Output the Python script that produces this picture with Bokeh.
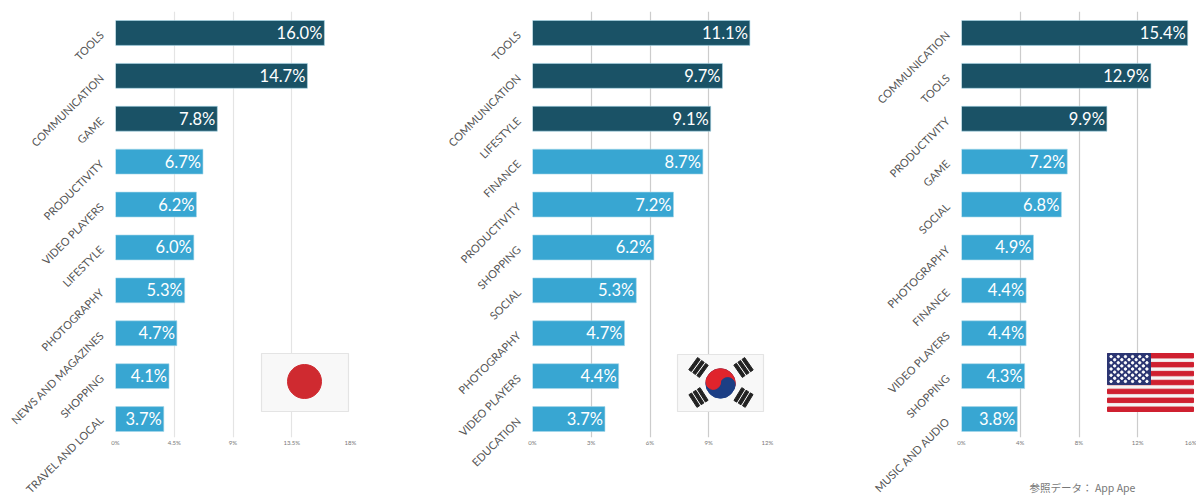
import math
import numpy as np
from bokeh.embed import file_html
from bokeh.resources import INLINE
from bokeh.layouts import row
from bokeh.models import ColumnDataSource, FixedTicker, Range1d
from bokeh.plotting import figure
from bokeh.core.properties import value

jp_categories = ["TOOLS", "COMMUNICATION", "GAME", "PRODUCTIVITY", "VIDEO PLAYERS", "LIFESTYLE",
                 "PHOTOGRAPHY", "NEWS AND MAGAZINES", "SHOPPING", "TRAVEL AND LOCAL"]
jp_values = [16.0, 14.7, 7.8, 6.7, 6.2, 6.0, 5.3, 4.7, 4.1, 3.7]
jp_ticks = [0, 4.5, 9, 13.5, 18]
jp_tick_labels = ["0%", "4.5%", "9%", "13.5%", "18%"]

kr_categories = ["TOOLS", "COMMUNICATION", "LIFESTYLE", "FINANCE", "PRODUCTIVITY", "SHOPPING",
                 "SOCIAL", "PHOTOGRAPHY", "VIDEO PLAYERS", "EDUCATION"]
kr_values = [11.1, 9.7, 9.1, 8.7, 7.2, 6.2, 5.3, 4.7, 4.4, 3.7]
kr_ticks = [0, 3, 6, 9, 12]
kr_tick_labels = ["0%", "3%", "6%", "9%", "12%"]

us_categories = ["COMMUNICATION", "TOOLS", "PRODUCTIVITY", "GAME", "SOCIAL", "PHOTOGRAPHY",
                 "FINANCE", "VIDEO PLAYERS", "SHOPPING", "MUSIC AND AUDIO"]
us_values = [15.4, 12.9, 9.9, 7.2, 6.8, 4.9, 4.4, 4.4, 4.3, 3.8]
us_ticks = [0, 4, 8, 12, 16]
us_tick_labels = ["0%", "4%", "8%", "12%", "16%"]
source_note = "\u00a0\u00a0\u00a0参照データ： App Ape"

DARK = "#1a5266"
LIGHT = "#38a6d2"
FRAME_W = 235
FRAME_H = 426
ROW_H = 42.9
TOP = 11


def chart(cats, vals, ticks, tick_labels, left, right, grid_color):
    colors = [DARK if i < 3 else LIGHT for i in range(len(vals))]
    n = len(cats)
    pos = [i + 0.5 for i in range(n)]
    p = figure(width=left + FRAME_W + right, height=495, frame_width=FRAME_W, frame_height=FRAME_H,
               x_range=Range1d(ticks[0], ticks[-1]), y_range=Range1d(FRAME_H / ROW_H, 0),
               output_backend="svg", toolbar_location=None,
               min_border_left=left, min_border_right=right, min_border_top=TOP,
               min_border_bottom=495 - FRAME_H - TOP)
    p.outline_line_color = None
    p.background_fill_color = "white"
    p.border_fill_color = "white"
    p.ygrid.grid_line_color = None
    p.xgrid.grid_line_color = grid_color
    p.xgrid.grid_line_width = 1.2
    p.xgrid.ticker = FixedTicker(ticks=ticks)

    p.xaxis.ticker = FixedTicker(ticks=ticks)
    p.xaxis.major_label_overrides = dict(zip(ticks, tick_labels))
    p.xaxis.axis_line_color = None
    p.xaxis.major_tick_line_color = None
    p.xaxis.minor_tick_line_color = None
    p.xaxis.major_label_text_font_size = "6px"
    p.xaxis.major_label_text_color = "#777777"
    p.xaxis.major_label_text_font = "Lato"
    p.xaxis.major_label_standoff = -5

    p.yaxis.ticker = FixedTicker(ticks=pos)
    p.yaxis.major_label_overrides = dict(zip(pos, cats))
    p.yaxis.axis_line_color = None
    p.yaxis.major_tick_line_color = None
    p.yaxis.minor_tick_line_color = None
    p.yaxis.major_label_orientation = math.pi / 4
    p.yaxis.major_label_text_font_size = "11px"
    p.yaxis.major_label_text_color = "#555555"
    p.yaxis.major_label_text_font = "Lato"
    p.yaxis.major_label_standoff = 8

    src = ColumnDataSource(dict(pos=pos, val=vals, color=colors,
                                label=[f"{v:.1f}%" for v in vals]))
    p.hbar(y="pos", right="val", left=0, height=0.58, color="color", source=src,
           line_color="#a8d8ea", line_width=0.6)
    p.text(x="val", y="pos", text="label", source=src, text_color="white", text_align="right",
           text_baseline="middle", x_offset=-2, text_font=value("Lato"), text_font_size="16.5px")

    # pixel-based overlay space for the flag artwork
    p.extra_x_ranges["px"] = Range1d(0, FRAME_W)
    p.extra_y_ranges["px"] = Range1d(FRAME_H, 0)
    return p


PX = dict(x_range_name="px", y_range_name="px")


def flag_box(p, x0, y0, x1, y1):
    p.quad(left=x0, right=x1, top=y0, bottom=y1, fill_color="#f8f8f8",
           line_color="#e4e4e4", line_width=1.2, **PX)


def japan(p):
    flag_box(p, 146, 342, 233, 400)
    p.circle(x=[189], y=[370], radius=17, color="#cf2a30", **PX)


def korea(p, ox):
    x0, y0 = 677 - ox, 354 - TOP
    flag_box(p, x0, y0, x0 + 86, y0 + 57)
    cx, cy = 720 - ox, 383 - TOP
    r = 14.7
    p.circle(x=[cx], y=[cy], radius=r, color="#1c3f85", **PX)
    th = np.linspace(np.pi + 0.2, 2 * np.pi + 0.2, 60)
    ax = cx + r * np.cos(th)
    ay = cy + r * np.sin(th)
    p.patch(x=list(ax), y=list(ay), color="#e0242c", **PX)
    dx, dy = r / 2 * np.cos(0.2), r / 2 * np.sin(0.2)
    p.circle(x=[cx + dx], y=[cy + dy], radius=r / 2, color="#1c3f85", **PX)
    p.circle(x=[cx - dx], y=[cy - dy], radius=r / 2, color="#e0242c", **PX)
    xs, ys, angs = [], [], []
    for sx, sy in [(-22, -16), (23, -16), (-22, 14), (23, 14)]:
        n = math.hypot(sx, sy)
        ux, uy = sx / n, sy / n
        for k in (-5, 0, 5):
            xs.append(cx + sx + ux * k)
            ys.append(cy + sy + uy * k)
            angs.append(math.atan2(-uy, ux) + math.pi / 2)
    p.rect(x=xs, y=ys, width=15, height=3.2, angle=angs, color="#222222", **PX)


def usa(p, ox):
    x0, x1, y0, y1 = 1107 - ox, 1193 - ox, 353 - TOP, 411 - TOP
    h = (y1 - y0) / 13
    p.quad(left=x0, right=x1, top=y0, bottom=y1, fill_color="#f4f4f4", line_color=None, **PX)
    p.quad(left=[x0] * 7, right=[x1] * 7, top=[y0 + 2 * i * h for i in range(7)],
           bottom=[y0 + (2 * i + 1) * h for i in range(7)], color="#cf2030", **PX)
    cx1, cy1 = 1150 - ox, 384 - TOP
    p.quad(left=[x0], right=[cx1], top=[y0], bottom=[cy1], color="#2b3572", **PX)
    sx, sy = [], []
    for r in range(9):
        cnt = 6 if r % 2 == 0 else 5
        for c in range(cnt):
            sx.append(x0 + (cx1 - x0) * ((c * 2 + (1 if r % 2 == 0 else 2)) / 12))
            sy.append(y0 + (cy1 - y0) * ((r + 1) / 10))
    p.scatter(x=sx, y=sy, size=2.4, color="white", **PX)


p1 = chart(jp_categories, jp_values, jp_ticks, jp_tick_labels, 115, 75, "#e4e4e4")
p2 = chart(kr_categories, kr_values, kr_ticks, kr_tick_labels, 107, 87, "#cccccc")
p3 = chart(us_categories, us_values, us_ticks, us_tick_labels, 107, 0, "#cccccc")
japan(p1)
korea(p2, 532)
usa(p3, 961)
p3.xaxis.axis_label = source_note
p3.xaxis.axis_label_text_font = "Noto Sans CJK JP"
p3.xaxis.axis_label_text_font_style = "normal"
p3.xaxis.axis_label_text_font_size = "10.5px"
p3.xaxis.axis_label_text_color = "#777777"
p3.xaxis.axis_label_standoff = 31

page = row(p1, p2, p3, spacing=0)
open("out.html", "w").write(file_html(page, INLINE))
